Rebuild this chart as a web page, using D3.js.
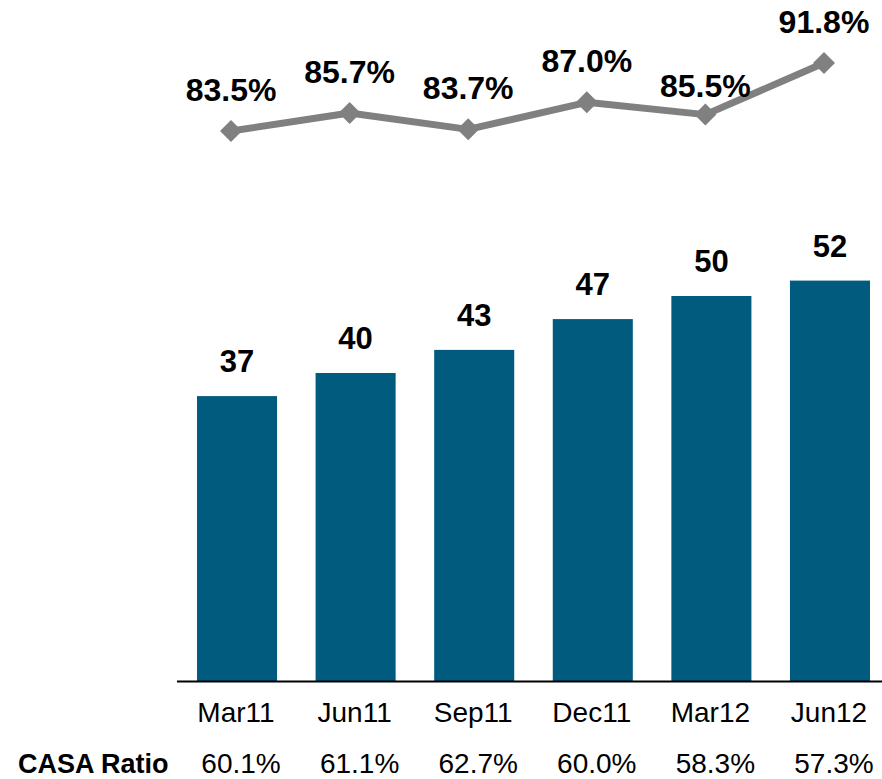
<!DOCTYPE html>
<html>
<head>
<meta charset="utf-8">
<script src="https://cdn.jsdelivr.net/npm/d3@7"></script>
<style>
  html, body { margin: 0; padding: 0; background: #fff; }
  svg { display: block; font-family: Arial, "Liberation Sans", sans-serif; }
</style>
</head>
<body>
<svg id="chart" width="882" height="779"></svg>
<script>
// Quarter-end periods
const periods = ["Mar11", "Jun11", "Sep11", "Dec11", "Mar12", "Jun12"];
// Bar series: balances
const balances = [37, 40, 43, 47, 50, 52];
// Line series: ratio in percent
const ratios = [83.5, 85.7, 83.7, 87.0, 85.5, 91.8];
// CASA ratio row under the axis
const casaRatios = ["60.1%", "61.1%", "62.7%", "60.0%", "58.3%", "57.3%"];
const casaTitle = "CASA Ratio";

const svg = d3.select("#chart");
const baseY = 681;
const barColor = "#005b7e";
const lineColor = "#808080";

const x = d3.scaleBand()
  .domain(periods)
  .range([177.7, 889.3])
  .paddingInner(0.325)
  .paddingOuter(0.1627);

const y = d3.scaleLinear().domain([0, 88.44]).range([baseY, 0]);

// Line sits slightly left of bar centres
const lineX = d => x(d) + x.bandwidth() / 2 - 6;
const yLine = d3.scaleLinear().domain([83.5, 91.8]).range([131, 63]);

// Bars
svg.append("g").selectAll("rect")
  .data(periods)
  .join("rect")
  .attr("x", d => x(d))
  .attr("width", x.bandwidth())
  .attr("y", (d, i) => y(balances[i]))
  .attr("height", (d, i) => baseY - y(balances[i]))
  .attr("fill", barColor);

// Bar value labels
svg.append("g").selectAll("text")
  .data(periods)
  .join("text")
  .attr("x", d => x(d) + x.bandwidth() / 2)
  .attr("y", (d, i) => y(balances[i]) - 24)
  .attr("text-anchor", "middle")
  .attr("font-size", 31)
  .attr("font-weight", "bold")
  .attr("fill", "#000")
  .text((d, i) => balances[i]);

// Baseline axis
const axis = d3.axisBottom(x).tickSize(0).tickPadding(0).tickFormat(() => "");
const axisG = svg.append("g").attr("transform", `translate(0,${baseY})`).call(axis);
axisG.select(".domain").remove();
svg.append("line")
  .attr("x1", 177).attr("x2", 882)
  .attr("y1", baseY + 0.5).attr("y2", baseY + 0.5)
  .attr("stroke", "#000").attr("stroke-width", 2);

// Category labels
svg.append("g").selectAll("text")
  .data(periods)
  .join("text")
  .attr("x", d => x(d) + x.bandwidth() / 2 - 1)
  .attr("y", 722)
  .attr("text-anchor", "middle")
  .attr("font-size", 28)
  .attr("fill", "#000")
  .text(d => d);

// CASA ratio row
svg.append("text")
  .attr("x", 18).attr("y", 773)
  .attr("font-size", 27)
  .attr("font-weight", "bold")
  .attr("fill", "#000")
  .text(casaTitle);

svg.append("g").selectAll("text")
  .data(periods)
  .join("text")
  .attr("x", d => x(d) + x.bandwidth() / 2 + 4)
  .attr("y", 773)
  .attr("text-anchor", "middle")
  .attr("font-size", 28)
  .attr("fill", "#000")
  .text((d, i) => casaRatios[i]);

// Ratio line
const line = d3.line()
  .x((d, i) => lineX(periods[i]))
  .y(d => yLine(d));

svg.append("path")
  .datum(ratios)
  .attr("d", line)
  .attr("fill", "none")
  .attr("stroke", lineColor)
  .attr("stroke-width", 7)
  .attr("stroke-linejoin", "round");

// Diamond markers
const r = 11;
svg.append("g").selectAll("path")
  .data(ratios)
  .join("path")
  .attr("d", (d, i) => {
    const cx = lineX(periods[i]), cy = yLine(d);
    return `M${cx},${cy - r}L${cx + r},${cy}L${cx},${cy + r}L${cx - r},${cy}Z`;
  })
  .attr("fill", lineColor);

// Ratio labels; the Mar12 label sits lower, close to its marker
const labelGap = ratios.map((d, i) => periods[i] === "Mar12" ? 18 : 30);
svg.append("g").selectAll("text")
  .data(ratios)
  .join("text")
  .attr("x", (d, i) => lineX(periods[i]))
  .attr("y", (d, i) => yLine(d) - labelGap[i])
  .attr("text-anchor", "middle")
  .attr("font-size", 32)
  .attr("font-weight", "bold")
  .attr("fill", "#000")
  .text(d => d.toFixed(1) + "%");
</script>
</body>
</html>
